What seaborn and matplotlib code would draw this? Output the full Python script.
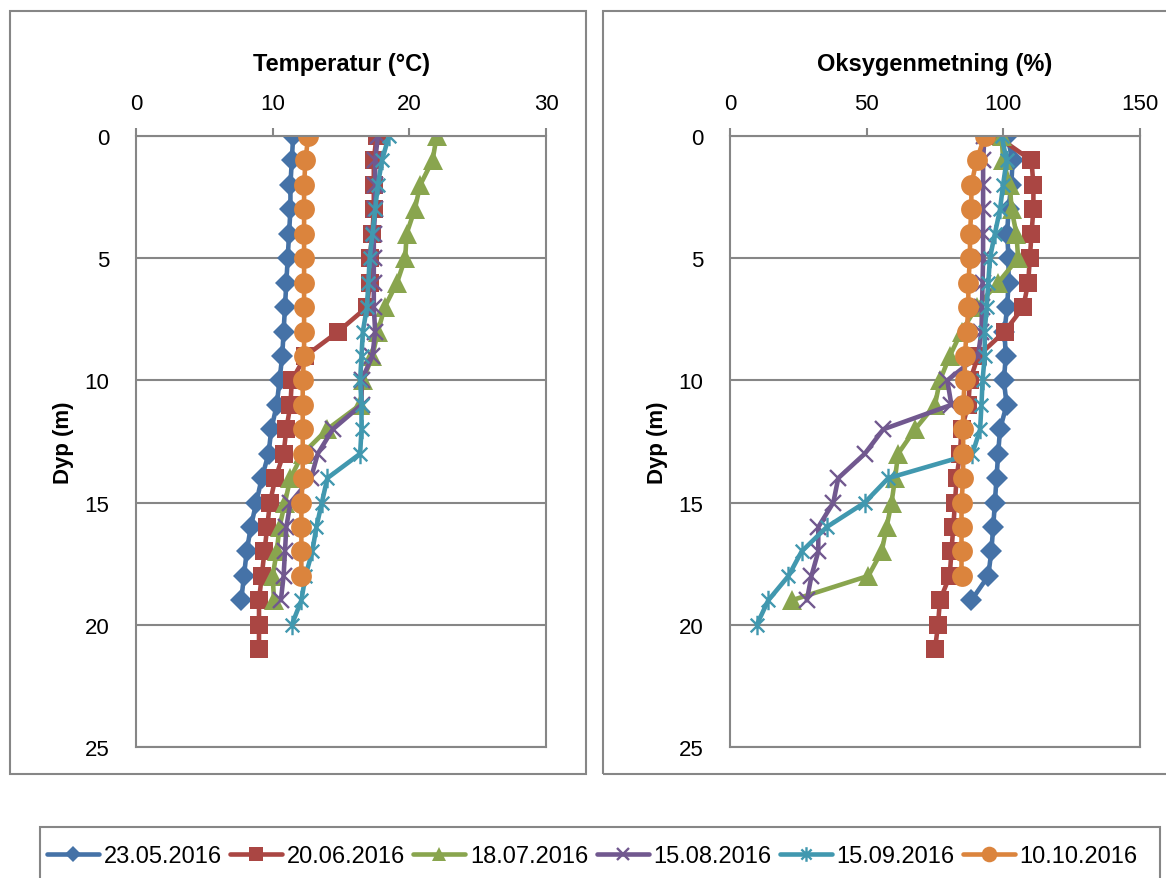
import matplotlib
matplotlib.use("Agg")
import matplotlib.pyplot as plt
from matplotlib.patches import Rectangle
from matplotlib.path import Path
import seaborn as sns
import pandas as pd

# sampling dates (legend labels)
dates = ["23.05.2016", "20.06.2016", "18.07.2016", "15.08.2016", "15.09.2016", "10.10.2016"]

# temperature profiles (deg C), one value per metre from the surface
temp_2305 = [11.5, 11.4, 11.3, 11.3, 11.2, 11.1, 11.0, 10.9, 10.8, 10.7, 10.5, 10.3, 9.9, 9.7, 9.2, 8.8, 8.4, 8.1, 7.9, 7.7]
temp_2006 = [17.6, 17.4, 17.4, 17.4, 17.3, 17.1, 17.1, 16.9, 14.8, 12.4, 11.4, 11.3, 11.0, 10.8, 10.2, 9.8, 9.6, 9.4, 9.2, 9.0, 9.0, 9.0]
temp_1807 = [22.0, 21.7, 20.8, 20.4, 19.8, 19.7, 19.1, 18.2, 17.7, 17.3, 16.6, 16.4, 14.0, 12.2, 11.3, 10.9, 10.5, 10.3, 10.0, 10.1]
temp_1508 = [17.7, 17.5, 17.5, 17.5, 17.4, 17.4, 17.4, 17.4, 17.5, 17.3, 16.5, 16.5, 14.4, 13.3, 12.8, 11.3, 11.0, 10.9, 10.8, 10.6]
temp_1509 = [18.5, 18.0, 17.7, 17.5, 17.3, 17.1, 17.0, 16.9, 16.6, 16.5, 16.4, 16.5, 16.5, 16.4, 14.0, 13.6, 13.2, 12.9, 12.4, 12.1, 11.4]
temp_1010 = [12.6, 12.4, 12.3, 12.3, 12.3, 12.3, 12.3, 12.3, 12.3, 12.3, 12.2, 12.2, 12.2, 12.2, 12.2, 12.1, 12.1, 12.1, 12.1]

# oxygen saturation profiles (%)
oxy_2305 = [101.4, 103.4, 102.9, 101.9, 101.4, 101.9, 101.9, 101.4, 100.4, 100.9, 100.2, 101.2, 98.8, 98.1, 97.5, 96.9, 96.3, 95.6, 94.5, 88.3]
oxy_2006 = [97.5, 110.3, 111.0, 111.0, 110.3, 109.7, 109.1, 107.3, 100.5, 90.8, 87.8, 87.2, 84.7, 84.1, 82.9, 82.3, 81.7, 81.0, 80.4, 76.8, 76.1, 75.0]
oxy_1807 = [99.4, 99.9, 102.4, 103.0, 104.8, 105.4, 98.1, 90.2, 84.7, 80.4, 76.8, 75.0, 67.7, 61.5, 60.4, 59.1, 57.3, 55.5, 50.6, 22.5]
oxy_1508 = [93.1, 92.6, 92.6, 92.6, 92.6, 92.6, 92.4, 92.2, 92.0, 90.7, 79.5, 81.0, 56.1, 49.3, 39.6, 37.8, 32.3, 32.3, 29.8, 28.1]
oxy_1509 = [99.4, 101.2, 99.9, 98.8, 96.9, 95.1, 94.5, 93.9, 93.2, 93.2, 92.4, 92.0, 91.5, 88.7, 57.9, 49.3, 35.4, 26.2, 21.4, 14.0, 9.8]
oxy_1010 = [93.2, 90.2, 88.3, 88.3, 87.8, 87.8, 87.2, 87.2, 86.6, 85.9, 85.9, 85.3, 85.3, 85.3, 85.3, 84.7, 84.7, 84.7, 84.7]

temp_series = [temp_2305, temp_2006, temp_1807, temp_1508, temp_1509, temp_1010]
oxy_series = [oxy_2305, oxy_2006, oxy_1807, oxy_1508, oxy_1509, oxy_1010]

# Excel-style star: an x with a vertical stroke
star = Path([(0, -1), (0, 1), (-0.7, -0.7), (0.7, 0.7), (-0.7, 0.7), (0.7, -0.7)],
            [Path.MOVETO, Path.LINETO] * 3)

colors = ["#4572A7", "#AA4643", "#89A54E", "#71588F", "#4198AF", "#DB843D"]
markers = ["D", "s", "^", "x", star, "o"]
msizes = [11.5, 13.5, 14, 12, 14, 15]


def long_form(series_list):
    frames = []
    for date, vals in zip(dates, series_list):
        frames.append(pd.DataFrame({"date": date, "value": vals, "depth": range(len(vals))}))
    return pd.concat(frames, ignore_index=True)


temp_df = long_form(temp_series)
oxy_df = long_form(oxy_series)

sns.set_theme(style="white")
plt.rcParams["font.family"] = ["Liberation Sans", "DejaVu Sans"]
plt.rcParams["text.color"] = "black"
plt.rcParams["axes.labelcolor"] = "black"

W, H = 1166, 879
fig = plt.figure(figsize=(W / 100, H / 100), dpi=100)

grey = "#868686"

# chart-area frames
for x0, x1 in [(10, 586), (603, 1175)]:
    fig.patches.append(Rectangle((x0 / W, 1 - 775 / H), (x1 - x0) / W, 763 / H,
                                 transform=fig.transFigure, fill=False,
                                 edgecolor=grey, linewidth=1.5))
# legend frame (runs off the bottom)
fig.patches.append(Rectangle((40 / W, 1 - 892 / H), 1120 / W, 64 / H,
                             transform=fig.transFigure, fill=False,
                             edgecolor=grey, linewidth=1.5))

ax_t = fig.add_axes([136 / W, 1 - 748 / H, 410 / W, 611 / H])
ax_o = fig.add_axes([730 / W, 1 - 748 / H, 410 / W, 611 / H])

for ax, df, xmax, xticks, title in [
    (ax_t, temp_df, 30, [0, 10, 20, 30], "Temperatur (°C)"),
    (ax_o, oxy_df, 150, [0, 50, 100, 150], "Oksygenmetning (%)"),
]:
    for date, col, mk, ms in zip(dates, colors, markers, msizes):
        sub = df[df["date"] == date]
        filled = not (mk == "x" or mk is star)
        sns.lineplot(data=sub, x="value", y="depth", orient="y", sort=False,
                     estimator=None, color=col, linewidth=3.3, marker=mk,
                     markersize=ms, markeredgewidth=0 if filled else 1.7,
                     markeredgecolor=col, label=date, legend=False, ax=ax)
    ax.set_xlim(0, xmax)
    ax.set_ylim(25, 0)
    ax.set_xticks(xticks)
    ax.set_yticks([0, 5, 10, 15, 20, 25])
    ax.xaxis.tick_top()
    ax.tick_params(axis="both", which="both", direction="out", length=6,
                   width=1.5, color=grey, labelcolor="black", labelsize=16)
    ax.tick_params(axis="x", pad=10)
    ax.tick_params(axis="y", pad=13)
    ax.set_xlabel("")
    ax.set_ylabel("Dyp (m)", fontsize=16, fontweight="bold")
    ax.yaxis.set_label_coords(-0.15, 0.5)
    ax.grid(axis="y", color=grey, linewidth=1.5)
    ax.grid(axis="x", visible=False)
    for sp in ax.spines.values():
        sp.set_color(grey)
        sp.set_linewidth(1.5)
    ax.text(0.5, 1.118, title, transform=ax.transAxes, ha="center", va="center",
            fontsize=17, fontweight="bold")

handles, labels = ax_t.get_legend_handles_labels()
fig.legend(handles, labels, loc="center", bbox_to_anchor=(0.508, 0.025), ncol=6,
           frameon=False, fontsize=17, handlelength=2.2, handletextpad=0.2,
           columnspacing=0.35, markerscale=0.75)

fig.savefig("out.png", dpi=100)
